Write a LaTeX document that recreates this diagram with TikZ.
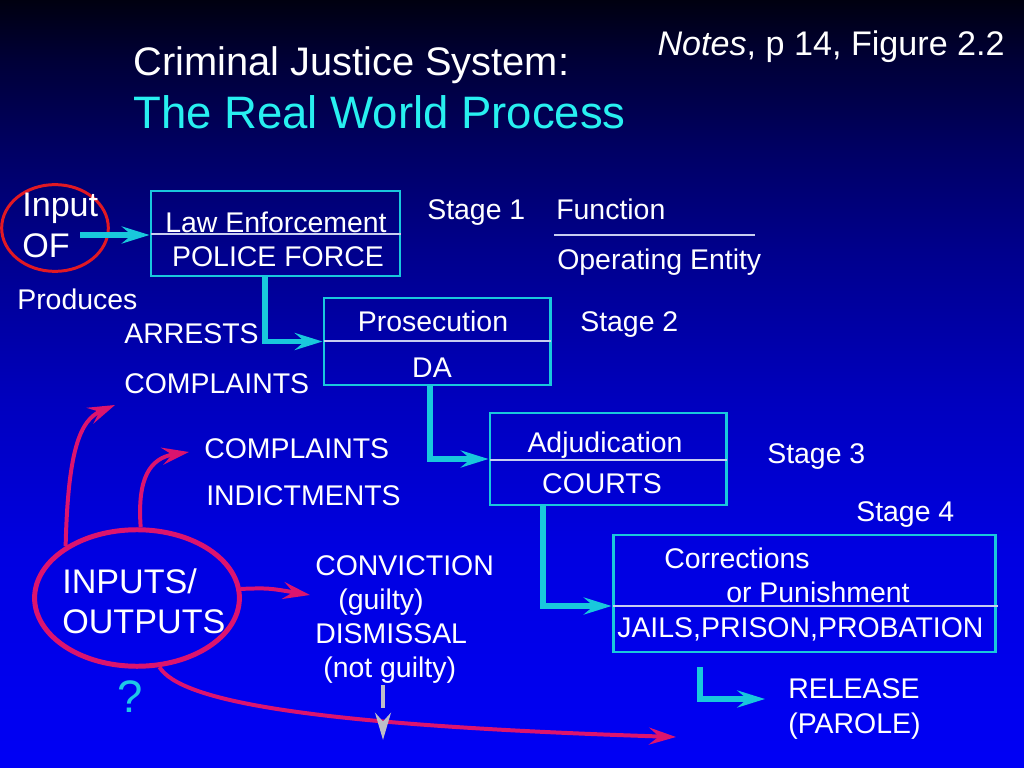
\documentclass[tikz,border=0pt]{standalone}
\usepackage{fontspec}
\setmainfont{Liberation Sans}
\usetikzlibrary{arrows.meta,shapes.geometric,fit}
\definecolor{bg0}{RGB}{0,0,16}
\definecolor{bg1}{RGB}{0,0,55}
\definecolor{bg2}{RGB}{0,0,100}
\definecolor{bg3}{RGB}{0,0,140}
\definecolor{bg4}{RGB}{0,0,190}
\definecolor{bg5}{RGB}{0,0,225}
\definecolor{bg6}{RGB}{0,0,245}
\pgfdeclareverticalshading{slidebg}{100bp}{color(0bp)=(bg6); color(25bp)=(bg6); color(39.19bp)=(bg5); color(48.96bp)=(bg4); color(58.72bp)=(bg3); color(65.23bp)=(bg2); color(71.09bp)=(bg1); color(75bp)=(bg0); color(100bp)=(bg0)}
\definecolor{cyanbox}{RGB}{25,200,220}
\definecolor{titlecyan}{RGB}{40,240,240}
\definecolor{pinkline}{RGB}{220,20,110}
\definecolor{redring}{RGB}{225,25,35}
\definecolor{divline}{RGB}{200,205,240}
\definecolor{grayarr}{RGB}{190,190,200}
\definecolor{qcyan}{RGB}{30,200,230}
\begin{document}
\begin{tikzpicture}[x=0.703125pt,y=-0.703125pt,
  txt/.style={text=white,inner sep=0pt,anchor=base west,font=\fontsize{20}{24}\selectfont},
  ctxt/.style={txt,anchor=base},
  big/.style={font=\fontsize{24}{29}\selectfont},
  stagebox/.style={draw=cyanbox,line width=2.1pt,inner sep=0pt},
  divider/.style={draw=divline,line width=0.8pt},
  flow/.style={draw=cyanbox,line width=4.2pt,-{Stealth[length=19.5pt,width=12pt,inset=7pt]}},
  pinkarrow/.style={draw=pinkline,line width=2.8pt,-{Stealth[length=19pt,width=12pt,inset=7pt]}},
  ring/.style={ellipse,inner sep=0pt}]

\useasboundingbox (0,0) rectangle (1024,768);
\shade[shading=slidebg] (0,0) rectangle (1024,768);

% titles
\node[txt,font=\fontsize{28}{34}\selectfont] (title1) at (133,76) {Criminal Justice System:};
\node[txt,text=titlecyan,font=\fontsize{32}{38}\selectfont] (title2) at (133,129) {The Real World Process};
\node[txt,anchor=base east,font=\fontsize{24}{29}\selectfont] (notes) at (1005,56) {\textit{Notes}, p 14, Figure 2.2};

% input OF
\node[ring,draw=redring,line width=2.1pt,minimum width=75pt,minimum height=61pt] (inring) at (55,228) {};
\node[txt,big] (inp) at (22,217) {Input};
\node[txt,big] (of) at (22,258) {OF};

% stage 1 box
\node[stagebox,fit={(151,191) (400,276)}] (law) {};
\draw[divider] (151,234) -- (401,234);
\node[ctxt] (lawF) at (276,233) {Law Enforcement};
\node[ctxt] (lawE) at (278,267) {POLICE FORCE};
\coordinate (inStart) at (80,235);
\draw[flow] (inStart) -- (law.west |- inStart);

\node[txt] (stage1) at (427,220) {Stage 1};
\node[txt] (func) at (556,220) {Function};
\draw[divider,line width=1pt] (554,235) -- (755,235);
\node[txt] (opent) at (557,270) {Operating Entity};

\node[txt] (produces) at (17,309) {Produces};
\node[txt] (arrests) at (124,344) {ARRESTS};
\node[txt] (compl1) at (124,393) {COMPLAINTS};

% stage 2 box
\node[stagebox,fit={(324,298) (550,385)}] (pros) {};
\draw[divider] (324,341) -- (551,341);
\node[ctxt] (prosF) at (433,332) {Prosecution};
\node[ctxt] (prosE) at (432,377) {DA};
\node[txt] (stage2) at (580,332) {Stage 2};
\draw[flow] (law.south -| 265,0) |- (pros.west);

\node[txt] (compl2) at (204,458) {COMPLAINTS};
\node[txt] (indict) at (206,505) {INDICTMENTS};

% stage 3 box
\node[stagebox,fit={(490,413) (726,505)}] (adj) {};
\draw[divider] (490,460) -- (727,460);
\node[ctxt] (adjF) at (605,452) {Adjudication};
\node[ctxt] (adjE) at (602,493) {COURTS};
\node[txt] (stage3) at (767,463) {Stage 3};
\draw[flow] (pros.south -| 430,0) |- (adj.west);

% stage 4 box
\node[txt] (stage4) at (856,521) {Stage 4};
\node[stagebox,fit={(613,535) (995,652)}] (corr) {};
\draw[divider] (613,606) -- (998,606);
\node[txt] (corrF1) at (664,568) {Corrections};
\node[txt] (corrF2) at (726,602) {or Punishment};
\node[txt] (corrE) at (617,637) {JAILS,PRISON,PROBATION};
\draw[flow] (adj.south -| 543,0) |- (corr.west |- 0,606);

% release
\coordinate (relStart) at (700,667);
\coordinate (relEnd) at (765,699);
\draw[flow] (relStart) |- (relEnd);
\node[txt] (release) at (788,698) {RELEASE};
\node[txt] (parole) at (788,733) {(PAROLE)};

% inputs / outputs
\node[ring,draw=pinkline,line width=3.5pt,minimum width=144pt,minimum height=96pt] (io) at (137,598) {};
\node[txt,big] (ioT1) at (62,593) {INPUTS/};
\node[txt,big] (ioT2) at (62,633) {OUTPUTS};
\node[txt,anchor=base,text=qcyan,font=\fontsize{32}{38}\selectfont] (qm) at (130,712) {?};

\node[txt] (conv) at (315,575) {CONVICTION};
\node[txt] (guilty) at (338,609) {(guilty)};
\node[txt] (dism) at (315,643) {DISMISSAL};
\node[txt] (notg) at (323,677) {(not guilty)};

\coordinate (p1) at (115,405);
\coordinate (p2) at (189,452);
\coordinate (p3) at (310,595);
\coordinate (p4) at (676,737);
\draw[pinkarrow] (io.144) .. controls (68,450) and (80,420) .. (p1);
\draw[pinkarrow] (io.87) .. controls (137,478) and (150,458) .. (p2);
\draw[pinkarrow] (io.5) .. controls (268,588) .. (p3);
\draw[pinkarrow] (io.-72) .. controls (180,700) and (300,725) .. (p4);

% gray arrow
\coordinate (gs) at (383,685);
\coordinate (ge) at (383,740);
\draw[draw=grayarr,line width=3.2pt,dash pattern=on 16pt off 40pt,-{Stealth[length=19pt,width=11pt,inset=6pt]}] (gs) -- (ge);
\end{tikzpicture}
\end{document}
